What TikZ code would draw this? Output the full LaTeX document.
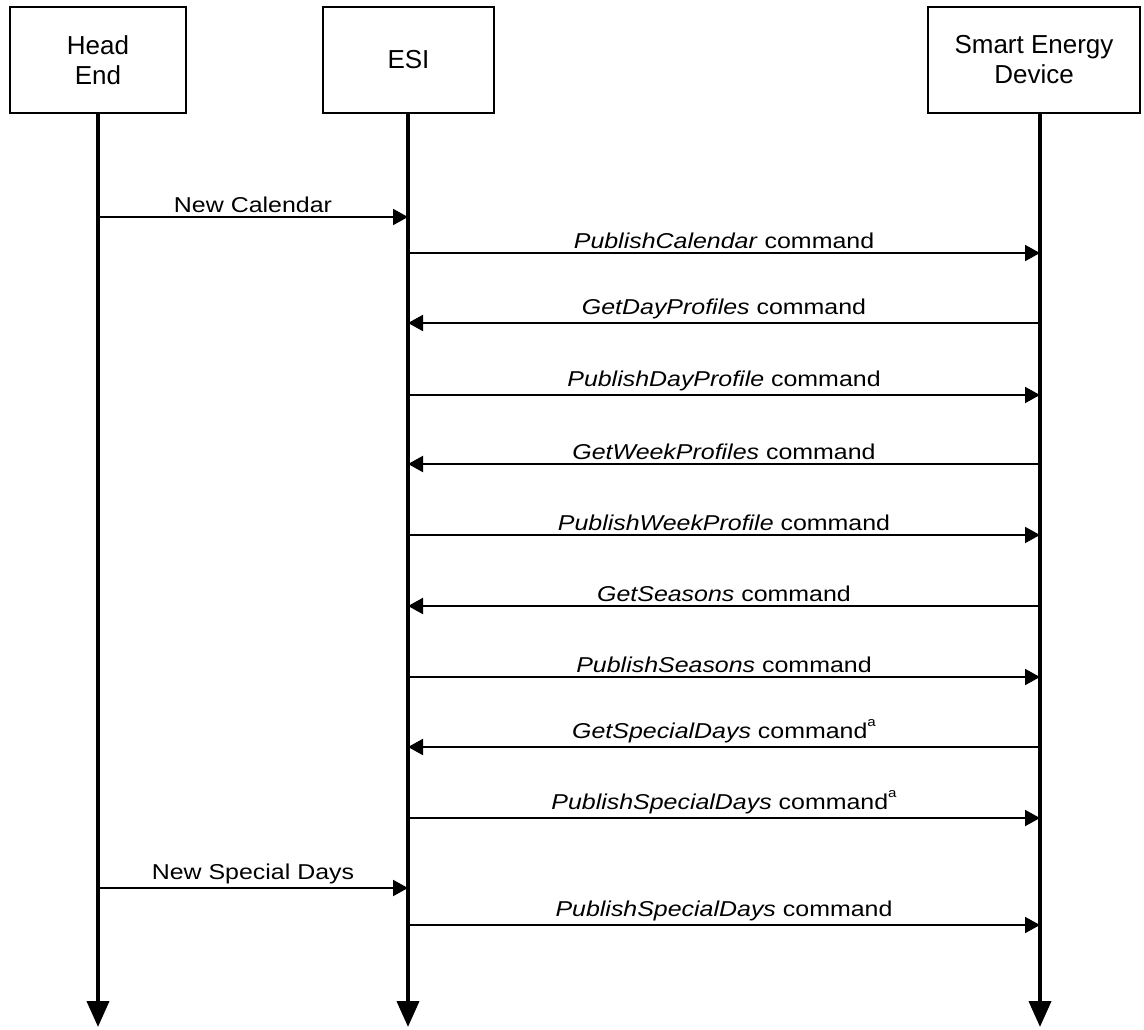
\documentclass[tikz,border=0pt]{standalone}
\usepackage{fontspec}
\setmainfont{Liberation Sans}
\newfontfamily\msgfont{Liberation Sans}[FakeStretch=1.16]
\newcommand{\fnmark}{\raisebox{1.1ex}{\fontsize{13}{13}\selectfont a}}
\usetikzlibrary{positioning,arrows.meta}

\begin{document}
\begin{tikzpicture}[
    x=1pt, y=-1pt,
    party/.style={
      rectangle, draw=black, line width=1.3pt,
      minimum height=106pt, align=center,
      font=\fontsize{26}{30}\selectfont
    },
    lifeline/.style={line width=4pt, -{Triangle[length=26pt,width=22pt]}},
    msg/.style={line width=2pt, -{Triangle[length=15pt,width=16pt]}},
    msglabel/.style={above, inner sep=3pt, font=\msgfont\fontsize{21.5}{24}\selectfont},
  ]
  \useasboundingbox (0,0) rectangle (1144,1029);

  %% Parties
  \node[party, minimum width=176pt] (he) at (98,60) {Head\\End};
  \node[party, minimum width=171pt] (esi) at (408.5,60) {ESI};
  \node[party, minimum width=212pt] (sed) at (1034,60) {Smart Energy\\Device};

  %% Points on the lifelines
  \coordinate (heEnd) at (98,1027);
  \coordinate (esiEnd) at (408,1027);
  \coordinate (sedEnd) at (1040,1027);
  \foreach \r/\y in {1/217, 2/253, 3/323, 4/395, 5/464, 6/535,
                     7/606, 8/677, 9/747, 10/818, 11/888, 12/925} {
    \coordinate (he\r) at (98,\y);
    \coordinate (es\r) at (408,\y);
    \coordinate (sd\r) at (1040,\y);
  }

  %% Lifelines
  \draw[lifeline] (he.south -| heEnd) -- (heEnd);
  \draw[lifeline] (esi.south -| esiEnd) -- (esiEnd);
  \draw[lifeline] (sed.south -| sedEnd) -- (sedEnd);

  %% Messages
  \draw[msg] (he1) -- node[msglabel] {New Calendar} (es1);
  \draw[msg] (es2) -- node[msglabel] {\textit{PublishCalendar} command} (sd2);
  \draw[msg] (sd3) -- node[msglabel] {\textit{GetDayProfiles} command} (es3);
  \draw[msg] (es4) -- node[msglabel] {\textit{PublishDayProfile} command} (sd4);
  \draw[msg] (sd5) -- node[msglabel] {\textit{GetWeekProfiles} command} (es5);
  \draw[msg] (es6) -- node[msglabel] {\textit{PublishWeekProfile} command} (sd6);
  \draw[msg] (sd7) -- node[msglabel] {\textit{GetSeasons} command} (es7);
  \draw[msg] (es8) -- node[msglabel] {\textit{PublishSeasons} command} (sd8);
  \draw[msg] (sd9) -- node[msglabel] {\textit{GetSpecialDays} command\fnmark} (es9);
  \draw[msg] (es10) -- node[msglabel] {\textit{PublishSpecialDays} command\fnmark} (sd10);
  \draw[msg] (he11) -- node[msglabel] {New Special Days} (es11);
  \draw[msg] (es12) -- node[msglabel] {\textit{PublishSpecialDays} command} (sd12);

\end{tikzpicture}
\end{document}
